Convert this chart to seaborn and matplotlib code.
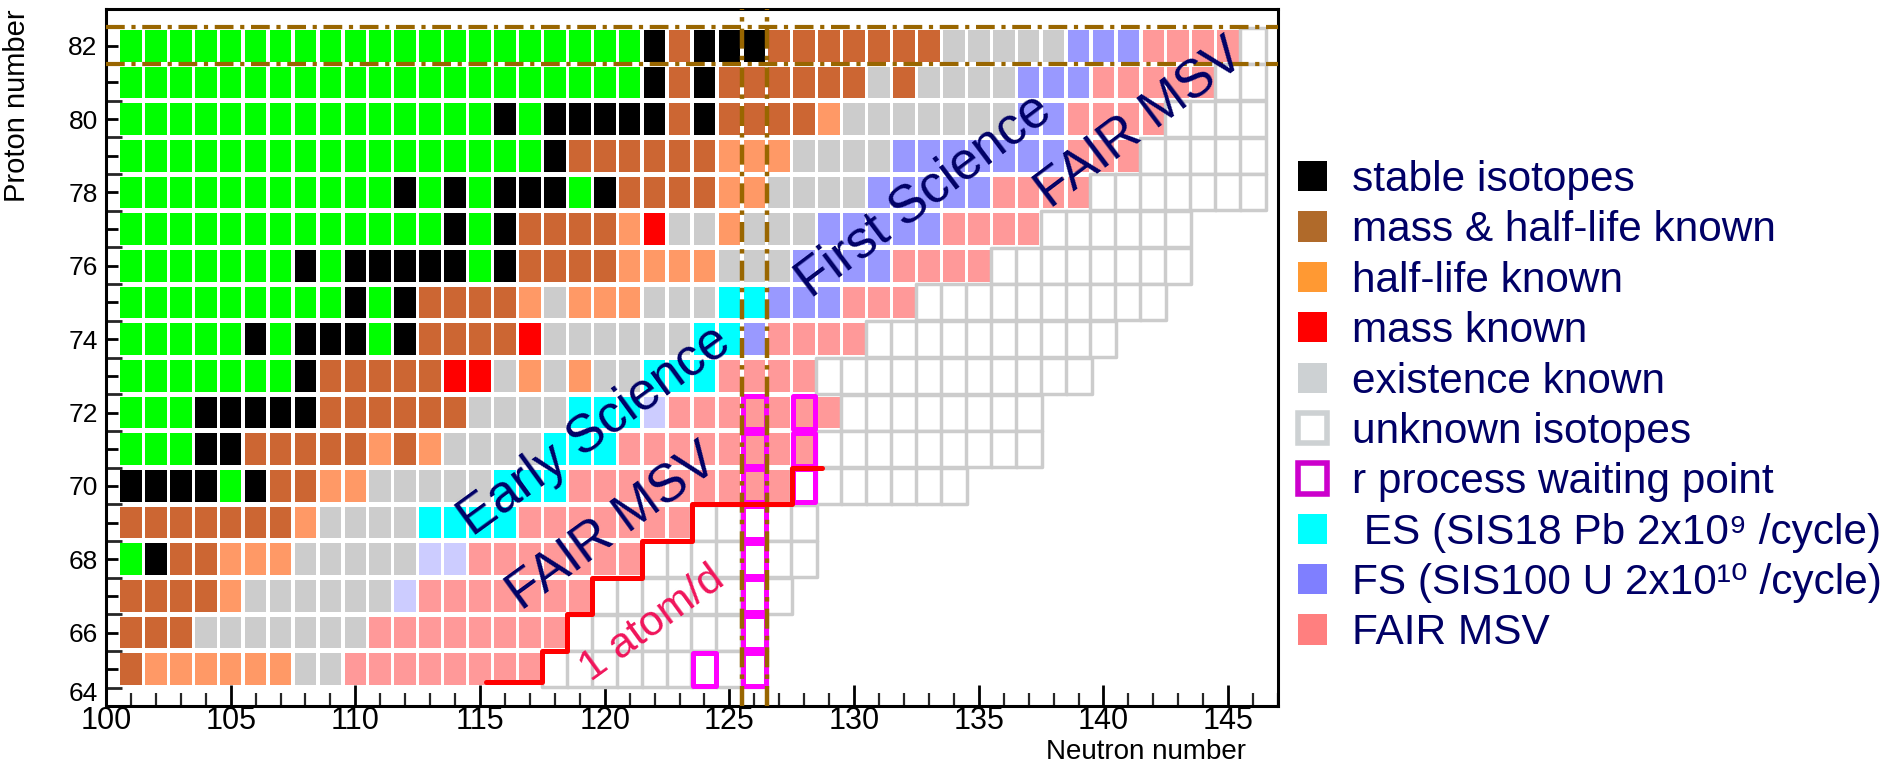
import numpy as np
import pandas as pd
import matplotlib
matplotlib.use("Agg")
import matplotlib.pyplot as plt
from matplotlib.path import Path
from matplotlib.patches import Patch
from matplotlib.ticker import FixedLocator, MultipleLocator
import seaborn as sns

# ------------------------------------------------------------------ data
proton_numbers = [82, 81, 80, 79, 78, 77, 76, 75, 74, 73, 72, 71, 70, 69, 68, 67, 66, 65]
first_neutron_number = 101

# category of every cell of a row, run-length encoded from N = 101 upwards
# G green, B stable, M mass & half-life known, H half-life known, R mass known,
# E existence known, U unknown, C ES, F FS, P FAIR MSV, L light lavender
row_z82 = [("G", 21), ("B", 1), ("M", 1), ("B", 3), ("M", 7), ("E", 5), ("F", 3), ("P", 4), ("U", 1)]
row_z81 = [("G", 21), ("B", 1), ("M", 1), ("B", 1), ("M", 6), ("E", 1), ("M", 1), ("E", 4), ("F", 3), ("P", 5), ("U", 2)]
row_z80 = [("G", 15), ("B", 1), ("G", 1), ("B", 5), ("M", 1), ("B", 1), ("M", 4), ("H", 1), ("E", 7), ("F", 2), ("P", 4), ("U", 4)]
row_z79 = [("G", 17), ("B", 1), ("M", 6), ("H", 3), ("E", 4), ("F", 7), ("P", 3), ("U", 5)]
row_z78 = [("G", 11), ("B", 1), ("G", 1), ("B", 1), ("G", 1), ("B", 3), ("G", 1), ("B", 1), ("M", 4), ("H", 2), ("E", 4), ("F", 5), ("P", 4), ("U", 7)]
row_z77 = [("G", 13), ("B", 1), ("G", 1), ("B", 1), ("M", 4), ("H", 1), ("R", 1), ("E", 2), ("H", 1), ("E", 3), ("F", 5), ("P", 4), ("U", 6)]
row_z76 = [("G", 7), ("B", 1), ("G", 1), ("B", 5), ("G", 1), ("B", 1), ("M", 4), ("H", 4), ("E", 3), ("F", 4), ("P", 4), ("U", 8)]
row_z75 = [("G", 9), ("B", 1), ("G", 1), ("B", 1), ("M", 4), ("H", 1), ("E", 1), ("H", 3), ("E", 3), ("C", 2), ("F", 3), ("P", 3), ("U", 10)]
row_z74 = [("G", 5), ("B", 1), ("G", 1), ("B", 3), ("G", 1), ("B", 1), ("M", 4), ("R", 1), ("E", 6), ("C", 2), ("F", 1), ("P", 4), ("U", 10)]
row_z73 = [("G", 7), ("B", 1), ("M", 5), ("R", 2), ("E", 1), ("H", 1), ("E", 1), ("H", 1), ("E", 2), ("C", 3), ("P", 4), ("U", 11)]
row_z72 = [("G", 3), ("B", 5), ("M", 6), ("E", 4), ("C", 3), ("L", 1), ("P", 7), ("U", 8)]
row_z71 = [("G", 3), ("B", 2), ("M", 5), ("H", 1), ("M", 1), ("H", 1), ("E", 4), ("C", 3), ("P", 8), ("U", 9)]
row_z70 = [("B", 4), ("G", 1), ("B", 1), ("M", 2), ("H", 2), ("E", 5), ("C", 3), ("P", 9), ("U", 7)]
row_z69 = [("M", 7), ("H", 1), ("E", 4), ("C", 4), ("P", 7), ("U", 5)]
row_z68 = [("G", 1), ("B", 1), ("M", 2), ("H", 3), ("E", 5), ("L", 2), ("P", 7), ("U", 7)]
row_z67 = [("M", 4), ("H", 1), ("E", 6), ("L", 1), ("P", 7), ("U", 8)]
row_z66 = [("M", 3), ("E", 7), ("P", 8), ("U", 8)]
row_z65 = [("M", 1), ("H", 6), ("E", 2), ("P", 8), ("U", 9)]
rows = [row_z82, row_z81, row_z80, row_z79, row_z78, row_z77, row_z76, row_z75, row_z74,
        row_z73, row_z72, row_z71, row_z70, row_z69, row_z68, row_z67, row_z66, row_z65]

waiting_point_n = [126, 126, 126, 126, 126, 126, 126, 126, 128, 128, 128, 124]
waiting_point_z = [65, 66, 67, 68, 69, 70, 71, 72, 70, 71, 72, 65]

# "1 atom/d" limit (step contour)
limit_n = [115.25, 117.5, 117.5, 118.5, 118.5, 119.5, 119.5, 121.5, 121.5, 123.5, 123.5, 127.5, 127.5, 128.7]
limit_z = [64.65, 64.65, 65.5, 65.5, 66.5, 66.5, 67.5, 67.5, 68.5, 68.5, 69.5, 69.5, 70.5, 70.5]

magic_neutron_lines = [125.5, 126.5]
magic_proton_lines = [81.5, 82.5]

x_tick_values = [100, 105, 110, 115, 120, 125, 130, 135, 140, 145]
y_tick_values = [64, 65, 66, 67, 68, 69, 70, 71, 72, 73, 74, 75, 76, 77, 78, 79, 80, 81, 82]
y_tick_labels = ["64", "", "66", "", "68", "", "70", "", "72", "", "74", "", "76", "", "78", "", "80", "", "82"]

legend_labels = ["stable isotopes", "mass & half-life known", "half-life known", "mass known",
                 "existence known", "unknown isotopes", "r process waiting point",
                 " ES (SIS18 Pb 2x10\u2079 /cycle)", "FS (SIS100 U 2x10\u00b9\u2070 /cycle)", "FAIR MSV"]

region_texts = ["Early Science", "FAIR MSV", "First Science", "FAIR MSV", "1 atom/d"]

# ------------------------------------------------------------------ style
cell_palette = {"G": "#00FF00", "B": "#000000", "M": "#CC6633", "H": "#FF9966", "R": "#FF0000",
                "E": "#CCCCCC", "C": "#00FFFF", "F": "#9999FF", "P": "#FF9999", "L": "#CCCCFF"}
legend_face = ["#000000", "#B06A2A", "#FF9933", "#FF0000", "#CDD1D3", "#FFFFFF", "#FFFFFF",
               "#00FFFF", "#7F7FFF", "#FF7F7F"]
legend_edge = ["#000000", "#B06A2A", "#FF9933", "#FF0000", "#CDD1D3", "#CDD1D3", "#CC00CC",
               "#00FFFF", "#7F7FFF", "#FF7F7F"]
legend_lw = [0, 0, 0, 0, 0, 4, 4, 0, 0, 0]

region_pos_n = [119.6, 120.35, 132.8, 141.5, 121.9]
region_pos_z = [71.5, 68.85, 77.9, 79.85, 66.25]
region_size = [38, 38, 38, 38, 31]
region_rot = [36, 36, 37, 37, 36]
region_color = ["#000066", "#000066", "#000066", "#000066", "#F0145A"]

navy = "#000066"
magic_color = "#996600"
narrow = ["Liberation Sans Narrow", "Liberation Sans", "DejaVu Sans"]

sns.set_theme(style="white")
plt.rcParams["font.family"] = ["Liberation Sans", "DejaVu Sans"]

W, H = 1897, 767
fig = plt.figure(figsize=(W / 100, H / 100), dpi=100)
ax = fig.add_axes([106 / W, 1 - 706 / H, (1278 - 106) / W, (706 - 9) / H])

# ------------------------------------------------------------------ cells
records = []
for z, row in zip(proton_numbers, rows):
    n = first_neutron_number
    for code, count in row:
        for _ in range(count):
            records.append({"N": n, "Z": z, "category": code})
            n += 1
cells = pd.DataFrame(records)
filled = cells[cells["category"] != "U"]
unknown = cells[cells["category"] == "U"]

aspect = 0.682
hw = aspect / 2
cell_marker = Path([(-hw, -0.5), (hw, -0.5), (hw, 0.5), (-hw, 0.5), (-hw, -0.5)], closed=True)

sns.scatterplot(data=filled, x="N", y="Z", hue="category", palette=cell_palette,
                marker=cell_marker, s=22.8 ** 2, linewidth=0, edgecolor="none",
                legend=False, ax=ax, zorder=1)
sns.scatterplot(data=unknown, x="N", y="Z", color="white", marker=cell_marker,
                s=26.4 ** 2, edgecolor="#CCCCCC", linewidth=2.5, legend=False, ax=ax, zorder=1.2)
sns.scatterplot(x=waiting_point_n, y=waiting_point_z, marker=cell_marker, s=23.8 ** 2,
                facecolor="none", edgecolor="#FF00FF", linewidth=3.6, legend=False, ax=ax, zorder=3)

for xv in magic_neutron_lines:
    ax.axvline(xv, color=magic_color, lw=3.2, dashes=(4.5, 1.6, 1.0, 1.6), zorder=3.5)
for yv in magic_proton_lines:
    ax.axhline(yv, color=magic_color, lw=3.0, dashes=(4.5, 1.6, 1.0, 1.6), zorder=3.5)

sns.lineplot(x=limit_n, y=limit_z, sort=False, estimator=None, color="#FF0000",
             linewidth=3.6, ax=ax, zorder=4)

for txt, xn, yz, fs, rot, col in zip(region_texts, region_pos_n, region_pos_z,
                                      region_size, region_rot, region_color):
    ax.text(xn, yz, txt, fontsize=fs, rotation=rot, rotation_mode="anchor",
            ha="center", va="center", color=col, zorder=5)

# ------------------------------------------------------------------ axes
ax.set_xlim(100, 147)
ax.set_ylim(64, 83)
ax.set_xticks(x_tick_values, labels=[str(v) for v in x_tick_values])
ax.xaxis.set_minor_locator(MultipleLocator(1))
ax.set_yticks(y_tick_values, labels=y_tick_labels)
ax.yaxis.set_minor_locator(FixedLocator(np.arange(64.5, 83, 1.0)))

ax.tick_params(axis="x", which="major", direction="in", length=15, width=2.0,
               labelsize=22, pad=0, bottom=True, top=False, colors="black")
ax.tick_params(axis="x", which="minor", direction="in", length=9.4, width=1.6,
               bottom=True, top=False)
ax.tick_params(axis="y", which="major", direction="in", length=8.6, width=2.0,
               labelsize=19, pad=6, left=True, right=False, colors="black")
ax.tick_params(axis="y", which="minor", direction="in", length=11.5, width=2.0,
               left=True, right=False)
for lab in ax.get_xticklabels():
    lab.set_fontfamily(narrow)
ax.get_yticklabels()[0].set_va("bottom")

for sp in ax.spines.values():
    sp.set_linewidth(2.2)
    sp.set_color("black")
    sp.set_visible(True)

ax.set_xlabel("Neutron number", loc="right", fontsize=20, family=narrow, color="black")
ax.xaxis.set_label_coords(0.9727, -0.066)
ax.xaxis.label.set_va("center")
ax.set_ylabel("Proton number", loc="top", fontsize=21, family=narrow, color="black")
ax.yaxis.set_label_coords(-0.0759, 1.0)
ax.yaxis.label.set_va("center")

# ------------------------------------------------------------------ legend
handles = [Patch(facecolor=f, edgecolor=e, linewidth=lw)
           for f, e, lw in zip(legend_face, legend_edge, legend_lw)]
fig.legend(handles, legend_labels, loc="upper left", bbox_to_anchor=(1298 / W, 1 - 160 / H),
           frameon=False, fontsize=30.5, labelcolor=navy, handlelength=0.68, handleheight=0.72,
           handletextpad=0.6, labelspacing=0.245, borderpad=0, borderaxespad=0)

fig.savefig("out.png", dpi=100)
